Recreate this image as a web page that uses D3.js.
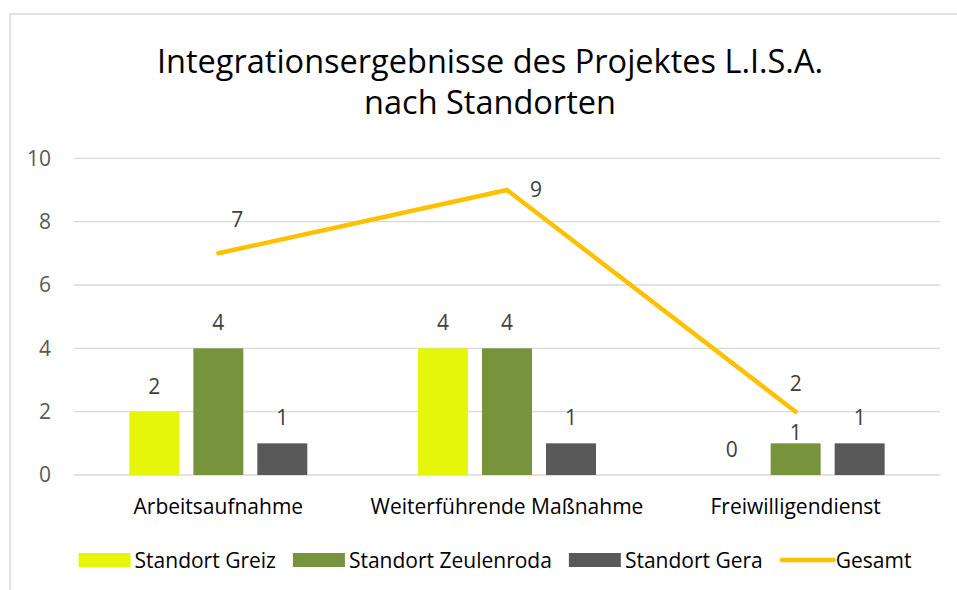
<!DOCTYPE html>
<html><head><meta charset="utf-8">
<script src="https://cdn.jsdelivr.net/npm/d3@7"></script>
<style>body{margin:0;background:#fff}svg{display:block}text{font-family:"Open Sans",sans-serif}</style>
</head><body>
<svg id="c" width="957" height="590"></svg>
<script>
const categories = ["Arbeitsaufnahme", "Weiterführende Maßnahme", "Freiwilligendienst"];
const seriesNames = ["Standort Greiz", "Standort Zeulenroda", "Standort Gera"];
const greiz = [2, 4, 0];
const zeulenroda = [4, 4, 1];
const gera = [1, 1, 1];
const gesamt = [7, 9, 2];
const yTicks = [0, 2, 4, 6, 8, 10];
const titleLines = ["Integrationsergebnisse des Projektes L.I.S.A.", "nach Standorten"];

const colors = ["#E6F60A", "#77933C", "#595959"];
const lineColor = "#FFC000";
const barSeries = [greiz, zeulenroda, gera];
const FONT = '"Open Sans",sans-serif';
const FS = 21;

const svg = d3.select("#c");
svg.append("rect").attr("x", 10).attr("y", 14).attr("width", 1000).attr("height", 700)
  .attr("fill", "#fff").attr("stroke", "#d9d9d9").attr("stroke-width", 1.5);

const L = 74, R = 940, T = 158.3, B = 475;
const x0 = d3.scaleBand().domain(categories).range([L, R]);
const x1 = d3.scaleBand().domain(d3.range(3)).range([0, x0.bandwidth()])
  .paddingInner(14 / 64).paddingOuter(0.865);
const y = d3.scaleLinear().domain([0, 10]).range([B, T]);

// title
const title = svg.append("text").attr("text-anchor", "middle").attr("font-size", 32.5).attr("fill", "#000");
titleLines.forEach((t, i) => title.append("tspan").attr("x", 490).attr("y", 73 + i * 41).text(t));

// grid
svg.append("g").selectAll("line").data(yTicks).join("line")
  .attr("x1", L).attr("x2", R).attr("y1", d => y(d)).attr("y2", d => y(d))
  .attr("stroke", "#d9d9d9").attr("stroke-width", 1.3);

// y axis labels
const yAxis = svg.append("g").attr("transform", `translate(${L},0)`)
  .call(d3.axisLeft(y).tickValues(yTicks).tickSize(0).tickPadding(23));
yAxis.select(".domain").remove();
yAxis.selectAll("text").attr("font-size", FS).attr("fill", "#595959").attr("font-family", FONT);

// x axis labels
const xAxis = svg.append("g").attr("transform", `translate(0,${B})`)
  .call(d3.axisBottom(x0).tickSize(0).tickPadding(24));
xAxis.select(".domain").remove();
xAxis.selectAll("text").attr("font-size", FS).attr("fill", "#000").attr("font-family", FONT);

// bars
const labelShift = {"2-1": 15};
barSeries.forEach((vals, s) => {
  const g = svg.append("g");
  g.selectAll("rect").data(vals).join("rect")
    .attr("x", (d, i) => x0(categories[i]) + x1(s))
    .attr("width", x1.bandwidth())
    .attr("y", d => y(d)).attr("height", d => B - y(d))
    .attr("fill", colors[s]);
  g.selectAll("text").data(vals).join("text")
    .attr("x", (d, i) => x0(categories[i]) + x1(s) + x1.bandwidth() / 2)
    .attr("y", (d, i) => y(d) - 18 + (labelShift[i + "-" + s] || 0))
    .attr("text-anchor", "middle").attr("font-size", FS).attr("fill", "#404040")
    .text(d => d);
});

// line
const cx = i => x0(categories[i]) + x0.bandwidth() / 2;
svg.append("path").datum(gesamt)
  .attr("d", d3.line().x((d, i) => cx(i)).y(d => y(d)))
  .attr("fill", "none").attr("stroke", lineColor).attr("stroke-width", 4.5)
  .attr("stroke-linecap", "round").attr("stroke-linejoin", "miter");
const lineLabelOff = [[19, -26], [29, 7], [0, -21]];
svg.append("g").selectAll("text").data(gesamt).join("text")
  .attr("x", (d, i) => cx(i) + lineLabelOff[i][0])
  .attr("y", (d, i) => y(d) + lineLabelOff[i][1])
  .attr("text-anchor", "middle").attr("font-size", FS).attr("fill", "#404040")
  .text(d => d);

// legend
const legend = svg.append("g");
const items = seriesNames.map((n, i) => ({name: n, color: colors[i], type: "rect"}))
  .concat([{name: "Gesamt", color: lineColor, type: "line"}]);
let cur = 0;
items.forEach(it => {
  const g = legend.append("g").attr("transform", `translate(${cur},0)`);
  if (it.type === "rect") g.append("rect").attr("x", 0).attr("y", -7).attr("width", 52).attr("height", 14).attr("fill", it.color);
  else g.append("line").attr("x1", 2).attr("x2", 54).attr("y1", 0).attr("y2", 0).attr("stroke", it.color).attr("stroke-width", 4.5).attr("stroke-linecap", "round");
  const t = g.append("text").attr("x", 56).attr("y", 7.5).attr("font-size", FS).attr("fill", "#000").text(it.name);
  cur += 56 + t.node().getComputedTextLength() + 17;
});
const totalW = cur - 17;
legend.attr("transform", `translate(${495 - totalW / 2},560)`);
</script>
</body></html>
